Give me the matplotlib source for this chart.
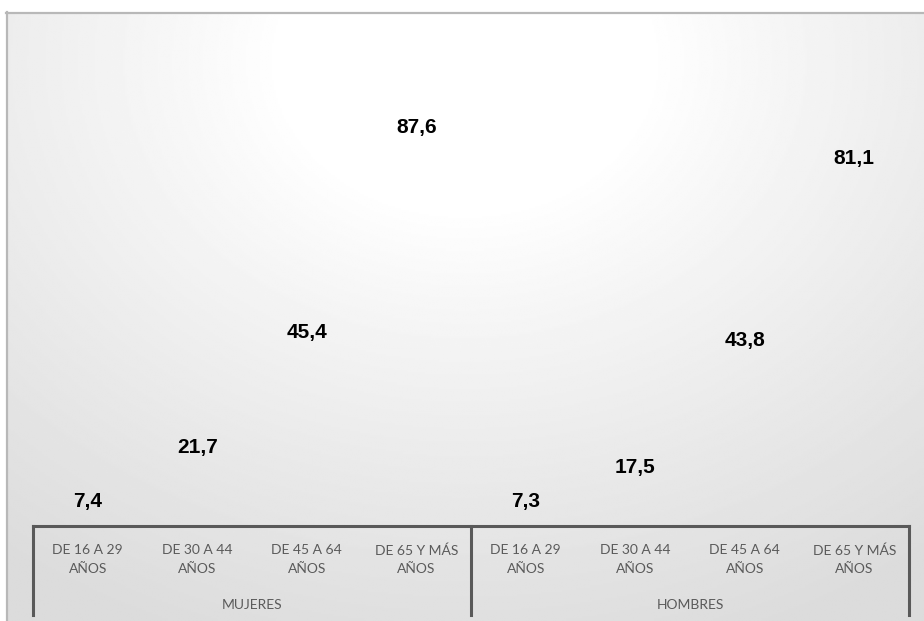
import numpy as np
import matplotlib.pyplot as plt
import matplotlib.transforms as mtransforms
from matplotlib.lines import Line2D

# data
grupos = ['MUJERES', 'HOMBRES']
edades = ['DE 16 A 29\nAÑOS', 'DE 30 A 44\nAÑOS', 'DE 45 A 64\nAÑOS', 'DE 65 Y MÁS\nAÑOS']
mujeres = [7.4, 21.7, 45.4, 87.6]
hombres = [7.3, 17.5, 43.8, 81.1]

W, H = 924, 621
fig = plt.figure(figsize=(W / 100, H / 100), dpi=100)

# fondo con degradado radial
bg = fig.add_axes([6 / W, 0, 1 - 6 / W, (H - 12) / H])
yy, xx = np.mgrid[0:1:300j, 0:1:450j]
r = np.hypot((xx - 0.5) * 1.1, (yy - 0.08) * 0.9)
g = 1 - 0.14 * np.clip((r - 0.22) / 0.7, 0, 1) ** 0.9
bg.imshow(g, cmap='gray', vmin=0, vmax=1, aspect='auto', interpolation='bilinear')
bg.axis('off')
fig.add_artist(Line2D([6 / W, 1], [(H - 12.5) / H] * 2, transform=fig.transFigure,
                      color='#b8b8b8', lw=1.6))
fig.add_artist(Line2D([6.5 / W] * 2, [0, (H - 12) / H], transform=fig.transFigure,
                      color='#b8b8b8', lw=1.6))

ax = fig.add_axes([33 / W, (H - 526) / H, 876 / W, 486 / H])
ax.patch.set_alpha(0)
vals = mujeres + hombres
x = np.arange(len(vals))
ax.bar(x, vals, width=0.6, color='none')
ax.set_xlim(-0.5, 7.5)
ax.set_ylim(0, 100)
for s in ['top', 'right', 'left']:
    ax.spines[s].set_visible(False)
ax.spines['bottom'].set_color('#595959')
ax.spines['bottom'].set_linewidth(2.2)
ax.set_xticks([])
ax.set_yticks([])

ppu = 486 / 100
for xi, v in zip(x, vals):
    off = max(v * ppu - 27, 24) - v * ppu
    ax.annotate(f'{v:.1f}'.replace('.', ','), (xi, v), xytext=(0, off),
                textcoords='offset pixels', ha='center', va='center',
                fontsize=15, fontweight='bold', family='Liberation Sans', color='black')

tr = mtransforms.blended_transform_factory(ax.transData, fig.transFigure)
for i, lab in enumerate(edades * 2):
    ax.text(i, (H - 559.5) / H, lab, transform=tr, ha='center', va='center',
            fontsize=10, linespacing=1.62, color='#5a5a5a', family='Lato')
for j, gname in enumerate(grupos):
    ax.text(1.5 + 4 * j, (H - 605) / H, gname, transform=tr, ha='center', va='center',
            fontsize=10, color='#5a5a5a', family='Lato')
for xs in [-0.5, 3.5, 7.5]:
    ax.add_line(Line2D([xs, xs], [(H - 526) / H, (H - 615) / H], transform=tr,
                       color='#595959', lw=2.2, clip_on=False))

fig.savefig('out.png', dpi=100)
